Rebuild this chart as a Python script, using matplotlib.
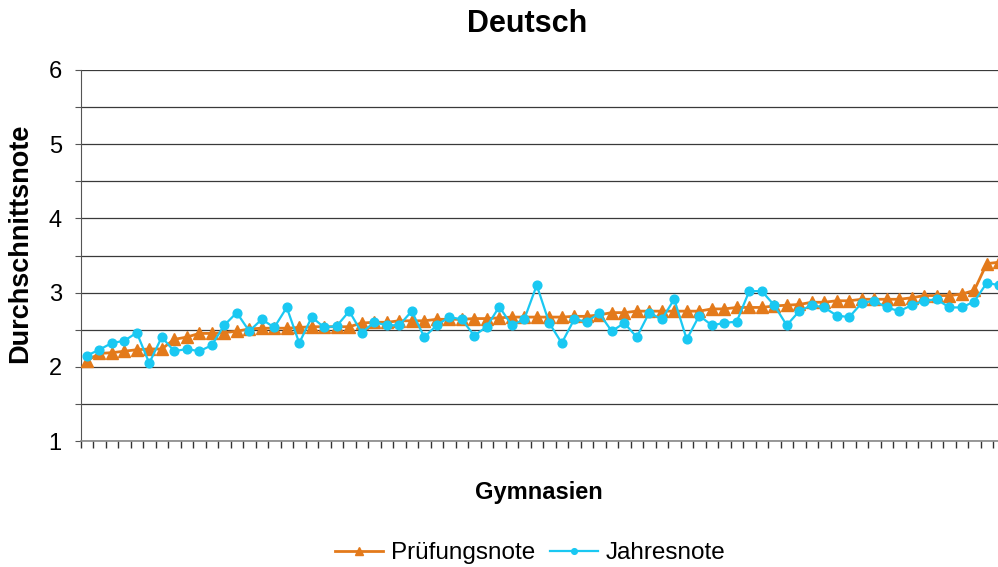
import numpy as np
import matplotlib
matplotlib.use('Agg')
import matplotlib.pyplot as plt
from matplotlib.ticker import MultipleLocator, FixedLocator, NullFormatter

plt.rcParams['font.family'] = ['Liberation Sans', 'DejaVu Sans']

# Prüfungsnote (sortiert) und Jahresnote je Gymnasium
pruefung = [2.08, 2.18, 2.19, 2.21, 2.23, 2.24, 2.24, 2.37, 2.40, 2.45,
            2.45, 2.46, 2.48, 2.51, 2.52, 2.52, 2.52, 2.53, 2.54, 2.54,
            2.54, 2.54, 2.59, 2.60, 2.60, 2.62, 2.62, 2.62, 2.64, 2.64,
            2.64, 2.65, 2.65, 2.66, 2.67, 2.67, 2.67, 2.67, 2.67, 2.68,
            2.68, 2.70, 2.73, 2.73, 2.75, 2.75, 2.75, 2.75, 2.75, 2.75,
            2.78, 2.78, 2.80, 2.80, 2.80, 2.82, 2.83, 2.84, 2.87, 2.87,
            2.89, 2.89, 2.91, 2.91, 2.91, 2.91, 2.93, 2.96, 2.96, 2.96,
            2.98, 3.03, 3.39, 3.41]
jahres = [2.15, 2.23, 2.32, 2.35, 2.46, 2.05, 2.40, 2.21, 2.24, 2.21,
          2.29, 2.56, 2.73, 2.48, 2.64, 2.53, 2.80, 2.32, 2.67, 2.53,
          2.55, 2.75, 2.46, 2.60, 2.56, 2.56, 2.75, 2.40, 2.56, 2.67,
          2.64, 2.42, 2.54, 2.81, 2.56, 2.64, 3.10, 2.59, 2.32, 2.64,
          2.61, 2.72, 2.48, 2.59, 2.40, 2.73, 2.64, 2.91, 2.37, 2.69,
          2.56, 2.59, 2.61, 3.02, 3.02, 2.83, 2.56, 2.75, 2.83, 2.80,
          2.69, 2.67, 2.86, 2.89, 2.80, 2.75, 2.83, 2.89, 2.91, 2.80,
          2.80, 2.88, 3.13, 3.10]

x = np.arange(len(pruefung))

W, H = 998, 567
fig = plt.figure(figsize=(W / 100, H / 100), dpi=100)
# Diagramm ist rechts abgeschnitten, daher reicht die Achse über den Rand
ax = fig.add_axes([80.5 / W, 126 / H, 925 / W, 371 / H])

orange = '#E37A1B'
blau = '#1AC8F2'

ax.plot(x, pruefung, color=orange, lw=2, marker='^', ms=8.5, label='Prüfungsnote', zorder=3)
ax.plot(x, jahres, color=blau, lw=1.6, marker='o', ms=6.3, label='Jahresnote', zorder=4)

ax.set_xlim(-0.5, len(x) - 0.5)
ax.set_ylim(1, 6)
ax.yaxis.set_major_locator(MultipleLocator(1))
ax.yaxis.set_minor_locator(MultipleLocator(0.5))
ax.grid(axis='y', which='both', color='#3a3a3a', lw=0.9)
ax.set_axisbelow(True)

ax.xaxis.set_major_locator(FixedLocator([]))
ax.xaxis.set_minor_locator(FixedLocator(np.arange(len(x) + 1) - 0.5))
ax.xaxis.set_minor_formatter(NullFormatter())
ax.tick_params(axis='x', which='minor', length=5, width=1, color='#333333', direction='out')
ax.tick_params(axis='y', which='both', length=4.5, width=0.8, color='#555555', direction='out',
               labelsize=17, pad=9)

for s in ['top', 'right']:
    ax.spines[s].set_visible(False)
ax.spines['left'].set_color('#555555')
ax.spines['bottom'].set_color('#888888')
ax.spines['bottom'].set_linewidth(1.2)

fig.text(526.7 / W, 1 - 24 / H, 'Deutsch', ha='center', va='center', fontsize=22, fontweight='bold')
fig.text(20 / W, 1 - 243 / H, 'Durchschnittsnote', ha='center', va='center', rotation=90,
         fontsize=19.5, fontweight='bold')
fig.text(539 / W, 1 - 492 / H, 'Gymnasien', ha='center', va='center', fontsize=17, fontweight='bold')

fig.legend(loc='center', bbox_to_anchor=(530 / W, 1 - 553 / H), ncol=2, frameon=False,
           fontsize=17.5, handlelength=2.0, handletextpad=0.3, columnspacing=0.6, markerscale=0.65)

fig.savefig('out.png', dpi=100)
